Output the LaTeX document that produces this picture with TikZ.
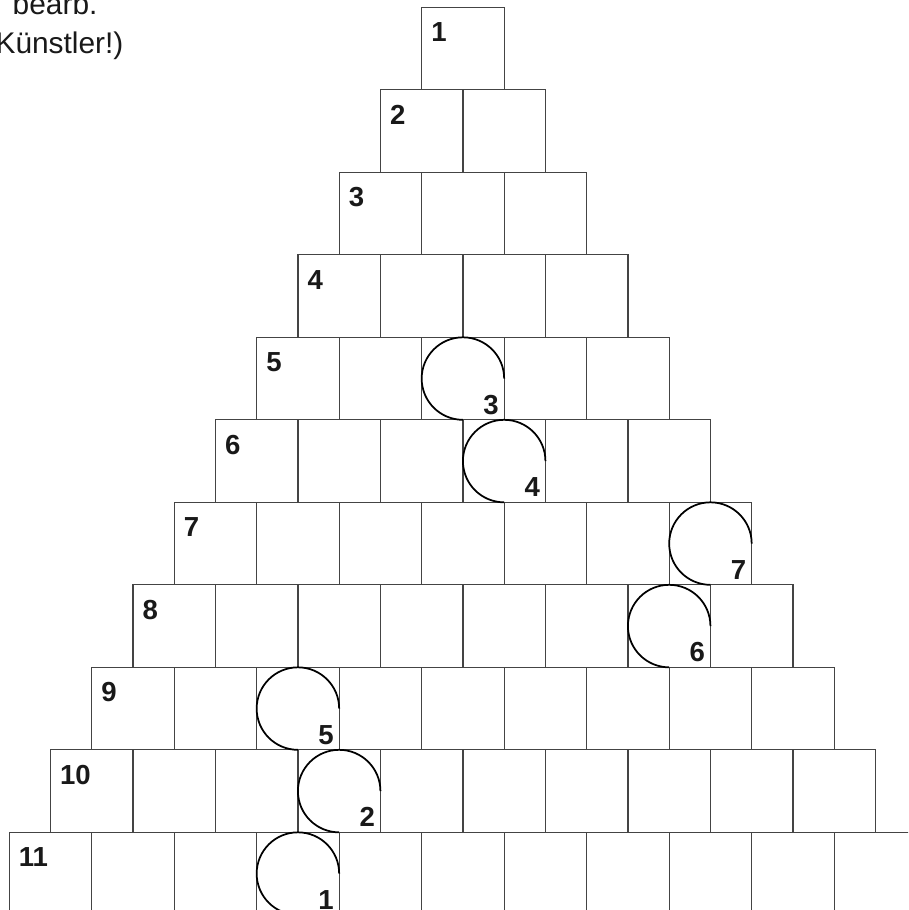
\documentclass[tikz,border=0pt]{standalone}
\usepackage{fontspec}
\setmainfont{Liberation Sans}
\usepackage{xcolor}
\usepackage{tikz}
\usetikzlibrary{positioning}
\definecolor{gridc}{HTML}{444444}
\tikzset{
  cellbox/.style={rectangle, draw=gridc, line width=0.45pt, fill=none,
    minimum width=1cm, minimum height=1cm, inner sep=0pt, outer sep=0pt, anchor=north west},
  rowlabel/.style={anchor=base west, inner sep=0pt, font=\fontsize{9.5}{11}\selectfont\bfseries, text=black!90},
  looplabel/.style={anchor=base east, inner sep=0pt, font=\fontsize{9.5}{11}\selectfont\bfseries, text=black!90},
  noteline/.style={anchor=base east, inner sep=0pt, font=\fontsize{10.3}{12}\selectfont, text=black!90},
  loopline/.style={draw=black, line width=0.6pt},
}
\begin{document}
\begin{tikzpicture}
  \useasboundingbox (0,0) rectangle (11.006,-11.030);
  \clip (0,0) rectangle (11.006,-11.030);
  % note at the top left
  \node[noteline] (n1) at (1.188,-0.170) {bearb.};
  \node[noteline] (n2) at (1.503,-0.646) {Künstler!)};
  % pyramid of boxes
  \foreach \r in {1,...,11}{
    \foreach \c in {1,...,\r}{
      \node[cellbox] (c-\r-\c) at ({5.111+\c-1-(\r-1)/2},{-0.0885-(\r-1)}) {};
    }
    \node[rowlabel] (l-\r) at ([shift={(0.11,-0.42)}]c-\r-1.north west) {\r};
  }
  % loops with their numbers
  \foreach \r/\c/\n in {5/3/3, 6/4/4, 7/7/7, 8/7/6, 9/3/5, 10/4/2, 11/4/1}{
    \draw[loopline] (c-\r-\c.east) arc[start angle=0, end angle=270, radius=0.5];
    \node[looplabel] (k-\n) at ([shift={(-0.06,0.07)}]c-\r-\c.south east) {\n};
  }
\end{tikzpicture}
\end{document}
